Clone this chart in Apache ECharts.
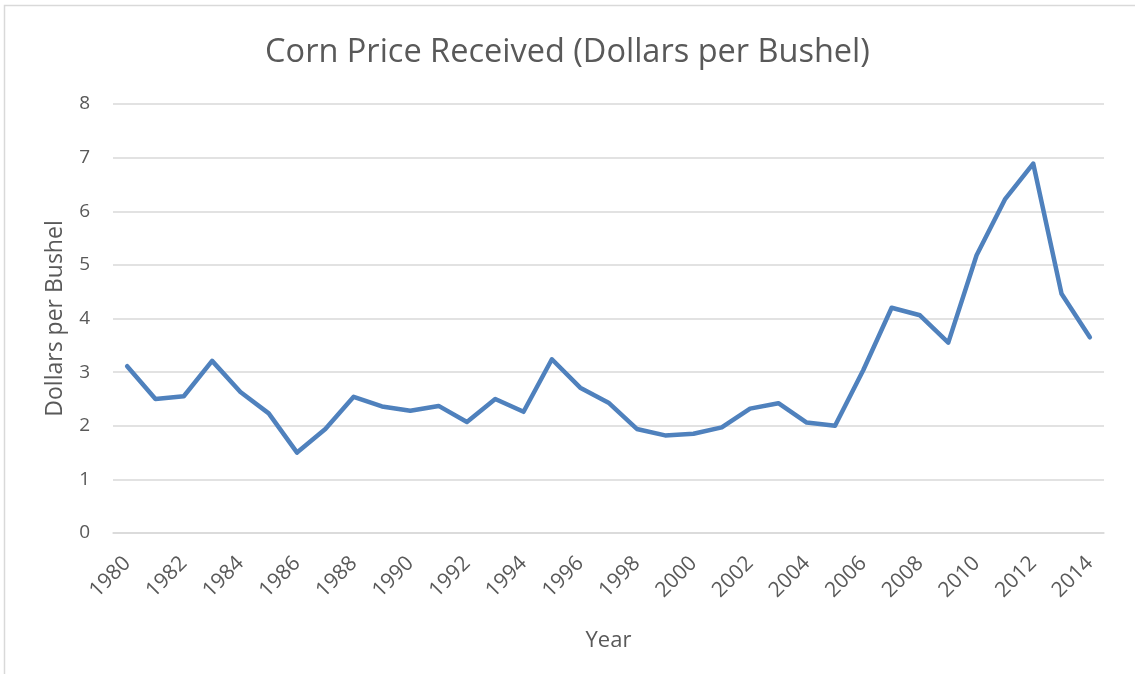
<!DOCTYPE html>
<html>
<head>
<meta charset="utf-8">
<script src="https://cdn.jsdelivr.net/npm/echarts@6/dist/echarts.min.js"></script>
<style>
html,body{margin:0;padding:0;background:#fff;}
#chart{width:1135px;height:674px;}
</style>
</head>
<body>
<div id="chart"></div>
<script>
const years = ['1980','1981','1982','1983','1984','1985','1986','1987','1988','1989','1990','1991','1992','1993','1994','1995','1996','1997','1998','1999','2000','2001','2002','2003','2004','2005','2006','2007','2008','2009','2010','2011','2012','2013','2014'];
const prices = [3.11,2.50,2.55,3.21,2.63,2.23,1.50,1.94,2.54,2.36,2.28,2.37,2.07,2.50,2.26,3.24,2.71,2.43,1.94,1.82,1.85,1.97,2.32,2.42,2.06,2.00,3.04,4.20,4.06,3.55,5.18,6.22,6.89,4.46,3.65];
const titleText = 'Corn Price Received (Dollars per Bushel)';
const xName = 'Year';
const yName = 'Dollars per Bushel';

const textColor = '#595959';
const font = '"Open Sans", "Noto Sans", sans-serif';
const chart = echarts.init(document.getElementById('chart'));
chart.setOption({
  backgroundColor: '#ffffff',
  animation: false,
  title: {
    text: titleText,
    left: 'center',
    top: 31,
    textStyle: {fontFamily: font, fontSize: 32.5, fontWeight: 'normal', color: textColor}
  },
  grid: {left: 113, right: 31, top: 104, bottom: 141, containLabel: false},
  xAxis: {
    type: 'category',
    data: years,
    boundaryGap: true,
    name: xName,
    nameLocation: 'middle',
    nameGap: 97,
    nameTextStyle: {fontFamily: font, fontSize: 22, color: textColor},
    axisLine: {show: true, lineStyle: {color: '#D9D9D9', width: 1.5}},
    axisTick: {show: false},
    axisLabel: {interval: 1, rotate: 45, margin: 27, fontFamily: font, fontSize: 21, color: textColor}
  },
  yAxis: {
    type: 'value',
    min: 0, max: 8, interval: 1,
    name: yName,
    nameLocation: 'middle',
    nameGap: 46,
    nameTextStyle: {fontFamily: font, fontSize: 23, color: textColor},
    axisLine: {show: false},
    axisTick: {show: false},
    axisLabel: {margin: 23, fontFamily: font, fontSize: 19, color: textColor},
    splitLine: {lineStyle: {color: '#D9D9D9', width: 1.5}}
  },
  series: [{
    type: 'line',
    data: prices,
    showSymbol: false,
    symbol: 'none',
    lineStyle: {color: '#4F81BD', width: 4.5, join: 'round', cap: 'round'},
    itemStyle: {color: '#4F81BD'}
  }],
  graphic: [{
    type: 'polyline',
    silent: true,
    shape: {points: [[4.5, 674], [4.5, 5.5], [1135, 5.5]]},
    style: {stroke: '#D9D9D9', lineWidth: 1.5, fill: null}
  }]
});
</script>
</body>
</html>
